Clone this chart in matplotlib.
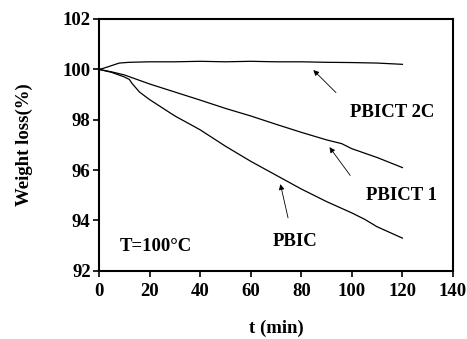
import matplotlib
matplotlib.use("Agg")
import matplotlib.pyplot as plt

# isothermal weight loss at 100 C
t_2c = [0, 2, 5, 8, 12, 20, 30, 40, 50, 60, 70, 80, 90, 100, 110, 120]
w_2c = [100.0, 100.05, 100.15, 100.25, 100.28, 100.3, 100.3, 100.32, 100.3, 100.32, 100.3, 100.3, 100.28, 100.27, 100.25, 100.2]

t_1 = [0, 5, 10, 15, 20, 30, 40, 50, 60, 70, 80, 90, 96, 100, 110, 120]
w_1 = [100.0, 99.9, 99.78, 99.6, 99.42, 99.1, 98.78, 98.45, 98.15, 97.82, 97.5, 97.2, 97.05, 96.85, 96.5, 96.1]

t_p = [0, 5, 10, 12, 13, 16, 20, 30, 40, 50, 60, 70, 80, 90, 100, 105, 110, 120]
w_p = [100.0, 99.88, 99.7, 99.6, 99.45, 99.1, 98.8, 98.15, 97.6, 96.95, 96.35, 95.8, 95.25, 94.75, 94.3, 94.05, 93.75, 93.3]

font = "Liberation Serif"
plt.rcParams["font.family"] = font
plt.rcParams["font.weight"] = "bold"
FS = 13.5

fig = plt.figure(figsize=(4.67, 3.39), dpi=100)
ax = fig.add_axes([0.212, 0.201, 0.758, 0.743])
for t, w in [(t_2c, w_2c), (t_1, w_1), (t_p, w_p)]:
    ax.plot(t, w, color="black", lw=0.9)

ax.set_xlim(0, 140)
ax.set_ylim(92, 102)
ax.set_xticks(range(0, 141, 20))
ax.set_yticks(range(92, 103, 2))
ax.tick_params(labelsize=FS, width=1.2, length=4, direction="out")
ax.tick_params(axis="x", pad=5)
ax.tick_params(axis="y", pad=2)
for lab in ax.get_xticklabels() + ax.get_yticklabels():
    lab.set_fontweight("bold")
for s in ax.spines.values():
    s.set_linewidth(1.5)

ax.set_xlabel("t (min)", fontsize=FS, fontweight="bold", labelpad=14)
ax.set_ylabel("Weight loss(%)", fontsize=FS, fontweight="bold", labelpad=21)

arr = dict(arrowstyle="-|>", color="black", lw=0.6, mutation_scale=8)
ax.annotate("", xy=(84, 100.05), xytext=(94.5, 99.0), arrowprops=arr)
ax.annotate("PBICT 2C", xy=(116, 98.3), ha="center", va="center", fontsize=FS, fontweight="bold")
ax.annotate("", xy=(90.5, 97.0), xytext=(100, 95.7), arrowprops=arr)
ax.annotate("PBICT 1", xy=(119.5, 95.0), ha="center", va="center", fontsize=FS, fontweight="bold")
ax.annotate("", xy=(71.5, 95.55), xytext=(75, 94.0), arrowprops=arr)
ax.annotate("PBIC", xy=(77.5, 93.15), ha="center", va="center", fontsize=FS, fontweight="bold")
ax.text(8.3, 92.95, "T=100°C", ha="left", va="center", fontsize=FS, fontweight="bold")

fig.savefig("out.png", dpi=100)
